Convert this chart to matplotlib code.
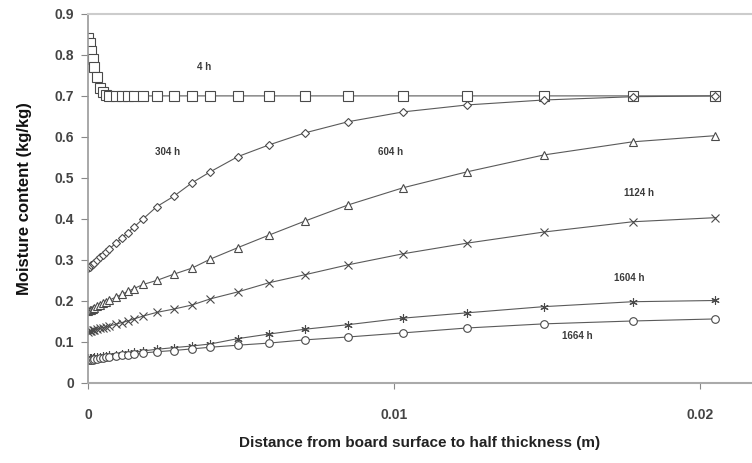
import matplotlib
matplotlib.use("Agg")
import matplotlib.pyplot as plt
import numpy as np

plt.rcParams['font.family'] = ['Liberation Sans', 'DejaVu Sans']

# Posiciones (m) desde la superficie hasta la mitad del espesor
distance = [0, 0.00005, 0.0001, 0.00015, 0.0002, 0.0003, 0.0004, 0.0005, 0.0006, 0.0007,
            0.0009, 0.0011, 0.0013, 0.0015, 0.0018, 0.00225, 0.0028, 0.0034, 0.004, 0.0049,
            0.0059, 0.0071, 0.0085, 0.0103, 0.0124, 0.0149, 0.0178, 0.0205]

mc_4h = [0.84, 0.83, 0.81, 0.79, 0.77, 0.745, 0.72, 0.71, 0.703, 0.70,
         0.70, 0.70, 0.70, 0.70, 0.70, 0.70, 0.70, 0.70, 0.70, 0.70,
         0.70, 0.70, 0.70, 0.70, 0.70, 0.70, 0.70, 0.70]
mc_304h = [0.28, 0.283, 0.287, 0.29, 0.293, 0.30, 0.307, 0.313, 0.32, 0.327,
           0.34, 0.353, 0.366, 0.38, 0.40, 0.43, 0.455, 0.488, 0.515, 0.552,
           0.58, 0.61, 0.637, 0.661, 0.678, 0.69, 0.698, 0.70]
mc_604h = [0.175, 0.177, 0.179, 0.181, 0.183, 0.187, 0.19, 0.194, 0.198, 0.202,
           0.209, 0.216, 0.223, 0.23, 0.24, 0.25, 0.265, 0.28, 0.302, 0.33,
           0.36, 0.395, 0.434, 0.476, 0.515, 0.556, 0.588, 0.603]
mc_1124h = [0.125, 0.126, 0.127, 0.128, 0.129, 0.131, 0.133, 0.135, 0.137, 0.139,
            0.143, 0.147, 0.151, 0.156, 0.163, 0.172, 0.18, 0.19, 0.205, 0.222,
            0.244, 0.264, 0.288, 0.315, 0.341, 0.368, 0.393, 0.403]
mc_1604h = [0.060, 0.060, 0.061, 0.061, 0.062, 0.063, 0.064, 0.065, 0.066, 0.067,
            0.069, 0.071, 0.073, 0.075, 0.078, 0.082, 0.086, 0.09, 0.095, 0.108,
            0.119, 0.131, 0.142, 0.158, 0.171, 0.186, 0.198, 0.201]
mc_1664h = [0.056, 0.056, 0.057, 0.057, 0.058, 0.059, 0.06, 0.061, 0.062, 0.063,
            0.065, 0.067, 0.069, 0.07, 0.073, 0.076, 0.079, 0.083, 0.087, 0.092,
            0.097, 0.105, 0.112, 0.122, 0.134, 0.144, 0.151, 0.156]

# (valores, marcador, tamaño, etiqueta, posición de la etiqueta)
series = [
    (mc_4h, 's', 6.5, '4 h', (0.0038, 0.77)),
    (mc_304h, 'D', 4.5, '304 h', (0.0026, 0.563)),
    (mc_604h, '^', 6.0, '604 h', (0.0099, 0.563)),
    (mc_1124h, 'x', 5.5, '1124 h', (0.0180, 0.463)),
    (mc_1604h, (6, 2, 0), 6.0, '1604 h', (0.0177, 0.256)),
    (mc_1664h, 'o', 5.5, '1664 h', (0.0160, 0.115)),
]

fig = plt.figure(figsize=(7.52, 4.63), dpi=100)
ax = fig.add_axes([0.117, 0.173, 0.883, 0.797])

for values, marker, ms, label, pos in series:
    ax.plot(distance, values, color='#5a5a5a', linewidth=0.8, marker=marker,
            markersize=ms, markerfacecolor='white', markeredgecolor='#4a4a4a',
            markeredgewidth=0.8)
    ax.text(pos[0], pos[1], label, fontsize=7, fontweight='bold', color='#3a3a3a',
            ha='center', va='center')

ax.set_xlim(0, 0.0217)
ax.set_ylim(0, 0.9)
ax.set_xticks([0, 0.01, 0.02])
ax.set_xticklabels(['0', '0.01', '0.02'])
ax.set_yticks(np.arange(0, 0.91, 0.1))
ax.set_yticklabels(['0', '0.1', '0.2', '0.3', '0.4', '0.5', '0.6', '0.7', '0.8', '0.9'])

for lbl in ax.get_xticklabels() + ax.get_yticklabels():
    lbl.set_fontweight('bold')
    lbl.set_fontsize(10)
    lbl.set_color('#444444')

ax.tick_params(axis='x', direction='out', length=4, width=0.8, color='#888888', pad=14)
ax.tick_params(axis='y', direction='out', length=5, width=0.8, color='#888888', pad=5)

ax.spines['right'].set_visible(False)
ax.spines['top'].set_color('#cccccc')
ax.spines['top'].set_linewidth(1.5)
ax.spines['left'].set_color('#999999')
ax.spines['left'].set_linewidth(1.2)
ax.spines['bottom'].set_color('#aaaaaa')
ax.spines['bottom'].set_linewidth(1.5)

ax.set_xlabel('Distance from board surface to half thickness (m)', fontsize=11,
              fontweight='bold', color='#222222', labelpad=10)
ax.set_ylabel('Moisture content (kg/kg)', fontsize=12, fontweight='bold',
              color='#111111', labelpad=16)

fig.savefig('out.png', dpi=100)
